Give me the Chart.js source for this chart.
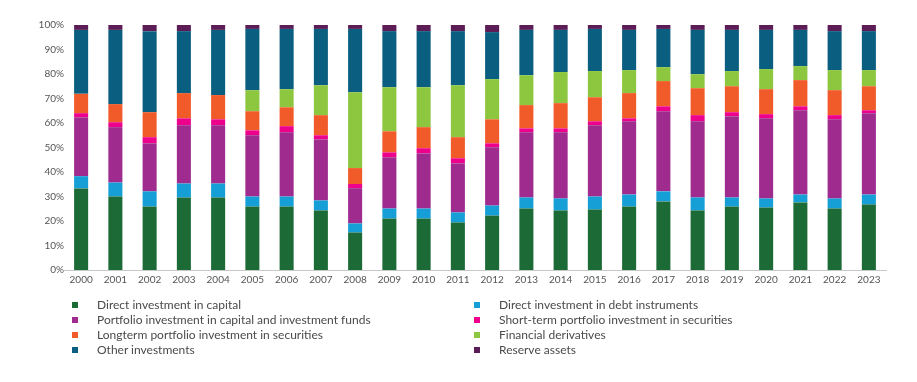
<!DOCTYPE html>
<html>
<head>
<meta charset="utf-8">
<script src="https://cdn.jsdelivr.net/npm/chart.js@4.4.1/dist/chart.umd.min.js"></script>
<style>
  html, body { margin: 0; padding: 0; background: #ffffff; }
  #wrap { position: relative; width: 917px; height: 382px; }
  #chart { position: absolute; left: 0; top: 0; }
  .lg { position: absolute; font-family: Lato, "Open Sans", sans-serif; font-size: 12px; color: #4a4a4a; white-space: nowrap; line-height: 14px; }
  .lg i { position: absolute; width: 6px; height: 6px; top: 4px; }
</style>
</head>
<body>
<div id="wrap">
  <canvas id="chart" width="917" height="382"></canvas>
  <div id="legend"></div>
</div>
<script>
const years = ["2000","2001","2002","2003","2004","2005","2006","2007","2008","2009","2010","2011","2012","2013","2014","2015","2016","2017","2018","2019","2020","2021","2022","2023"];
const yTickLabels = ["0%","10%","20%","30%","40%","50%","60%","70%","80%","90%","100%"];

const directCapital   = [33.3,30.0,25.9,29.6,29.6,25.9,25.9,24.3,15.3,21.0,21.0,19.4,22.2,25.1,24.3,24.7,25.9,28.0,24.3,25.9,25.5,27.6,25.1,26.7];
const directDebt      = [5.0,5.7,6.2,5.7,5.7,4.1,4.1,4.1,3.7,4.1,4.1,4.1,4.1,4.5,4.9,5.3,4.9,4.1,5.3,3.7,3.7,3.2,4.1,4.1];
const portfolioCap    = [24.0,22.6,19.6,23.8,23.8,25.0,26.2,24.9,14.4,20.9,22.5,20.0,23.8,26.6,27.0,29.1,29.9,32.7,31.1,33.2,32.7,34.4,32.3,33.2];
const shortTerm       = [1.7,2.0,2.5,2.8,2.4,2.0,2.5,1.7,1.7,2.0,2.1,2.1,1.6,1.6,1.6,1.6,1.2,2.0,2.5,1.6,1.7,1.6,1.7,1.2];
const longTerm        = [7.9,7.4,10.2,10.3,9.9,7.8,7.7,8.2,6.5,8.6,8.6,8.6,9.8,9.5,10.3,9.8,10.3,10.3,11.0,10.6,10.2,10.7,10.2,9.8];
const derivatives     = [0,0,0,0,0,8.6,7.4,12.2,31.0,18.0,16.3,21.2,16.4,12.2,12.7,10.7,9.4,5.7,5.7,6.2,8.2,5.7,8.2,6.6];
const otherInv        = [26.1,30.3,33.1,25.3,26.6,25.0,24.6,23.0,25.8,22.9,22.9,22.1,19.2,18.5,17.2,17.2,16.4,15.6,18.1,16.8,16.0,14.8,15.9,15.9];
const reserveAssets   = [2.0,2.0,2.5,2.5,2.0,1.6,1.6,1.6,1.6,2.5,2.5,2.5,2.9,2.0,2.0,1.6,2.0,1.6,2.0,2.0,2.0,2.0,2.5,2.5];

const seriesNames = [
  "Direct investment in capital",
  "Direct investment in debt instruments",
  "Portfolio investment in capital and investment funds",
  "Short-term portfolio investment in securities",
  "Longterm portfolio investment in securities",
  "Financial derivatives",
  "Other investments",
  "Reserve assets"
];
const seriesData = [directCapital, directDebt, portfolioCap, shortTerm, longTerm, derivatives, otherInv, reserveAssets];
const seriesColors = ["#1c6b37","#159fd6","#9e2b8d","#ec008c","#f15a29","#8dc63f","#0a5f80","#5c1d56"];

const tickFont = { family: "Lato, 'Open Sans', sans-serif", size: 10 };

const chart = new Chart(document.getElementById("chart"), {
  type: "bar",
  data: {
    labels: years,
    datasets: seriesNames.map((n, i) => ({
      label: n,
      data: seriesData[i],
      backgroundColor: seriesColors[i],
      borderWidth: 0,
      barPercentage: 0.82,
      categoryPercentage: 0.5
    }))
  },
  options: {
    responsive: false,
    animation: false,
    layout: { padding: { left: 0, right: 31, top: 25, bottom: 92 } },
    plugins: { legend: { display: false }, tooltip: { enabled: false } },
    scales: {
      x: {
        stacked: true,
        grid: { display: false, drawTicks: false },
        border: { display: true, color: "#c8c8c8", width: 1 },
        ticks: { color: "#555555", font: tickFont, padding: 4, maxRotation: 0, autoSkip: false },
        afterFit: s => { s.height = 20; }
      },
      y: {
        stacked: true,
        min: 0, max: 100,
        grid: { display: false, drawTicks: false },
        border: { display: false },
        ticks: {
          stepSize: 10,
          color: "#555555",
          font: tickFont,
          padding: 0,
          callback: (v) => yTickLabels[Math.round(v / 10)]
        },
        afterFit: s => { s.width = 64; }
      }
    }
  }
});

// HTML legend in two columns built from the chart datasets
const legendEl = document.getElementById("legend");
const colX = [72, 474];
const textOffset = 25;
const rowY = [298, 313, 328, 343];
chart.data.datasets.forEach((ds, i) => {
  const col = i % 2, row = Math.floor(i / 2);
  const d = document.createElement("div");
  d.className = "lg";
  d.style.left = colX[col] + "px";
  d.style.top = rowY[row] + "px";
  d.style.paddingLeft = textOffset + "px";
  const m = document.createElement("i");
  m.style.left = "0px";
  m.style.background = ds.backgroundColor;
  d.appendChild(m);
  d.appendChild(document.createTextNode(ds.label));
  legendEl.appendChild(d);
});
</script>
</body>
</html>
